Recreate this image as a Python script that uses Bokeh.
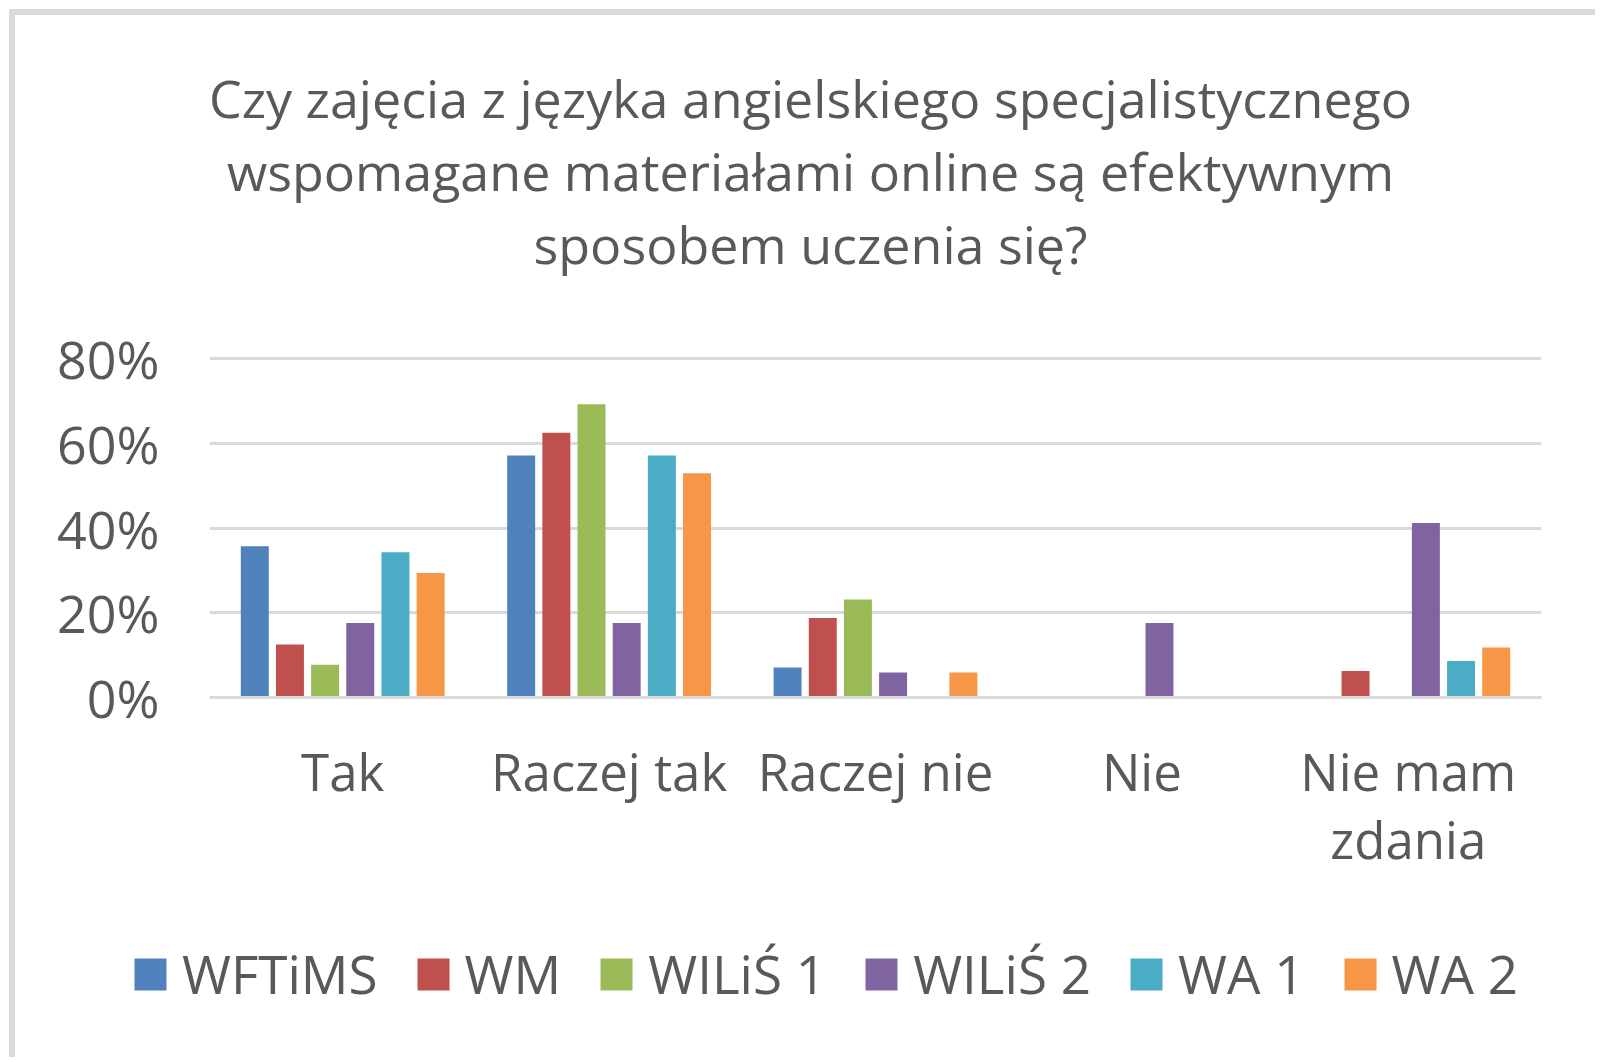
from bokeh.plotting import figure
from bokeh.models import (FactorRange, Range1d, ColumnDataSource, Legend, LegendItem,
                          FixedTicker, NumeralTickFormatter, Label)
from bokeh.layouts import column
from bokeh.transform import dodge
from bokeh.embed import file_html
from bokeh.resources import INLINE

# ---- data ----
categories = ["Tak", "Raczej tak", "Raczej nie", "Nie", "Nie mam\nzdania"]
series_names = ["WFTiMS", "WM", "WILiŚ 1", "WILiŚ 2", "WA 1", "WA 2"]
wftims = [0.357, 0.571, 0.071, 0.0, 0.0]
wm = [0.125, 0.625, 0.1875, 0.0, 0.0625]
wilis1 = [0.077, 0.692, 0.231, 0.0, 0.0]
wilis2 = [0.176, 0.176, 0.059, 0.176, 0.412]
wa1 = [0.343, 0.571, 0.0, 0.0, 0.086]
wa2 = [0.294, 0.529, 0.059, 0.0, 0.118]
y_ticks = [0, 0.2, 0.4, 0.6, 0.8]
title_lines = ["Czy zajęcia z języka angielskiego specjalistycznego",
               "wspomagane materiałami online są efektywnym",
               "sposobem uczenia się?"]

colors = ["#4F81BD", "#C0504D", "#9BBB59", "#8064A2", "#4BACC6", "#F79646"]
text_color = "#595959"
grid_color = "#D9D9D9"
FONT = "Open Sans"

series = [wftims, wm, wilis1, wilis2, wa1, wa2]
src = ColumnDataSource(dict(cat=categories, **{f"s{i}": s for i, s in enumerate(series)}))

W = 1580
H_MAIN, H_LEG = 920, 122
FRAME_H = 682          # frame from canvas top down to the 0% line
PX_80 = 339            # pixel height of the 0..80% span
p = figure(x_range=FactorRange(factors=categories, range_padding=0),
           y_range=Range1d(0, 0.8 * FRAME_H / PX_80),
           width=W, height=H_MAIN, output_backend="svg", toolbar_location=None,
           min_border_left=194, min_border_right=54, min_border_top=0,
           min_border_bottom=H_MAIN - FRAME_H,
           outline_line_color=None, background_fill_color="white", border_fill_color="white")
p.frame_align = False

pitch = 0.132
bw = 0.105
for i, name in enumerate(series_names):
    p.vbar(x=dodge("cat", (i - 2.5) * pitch, range=p.x_range), top=f"s{i}", width=bw,
           source=src, fill_color=colors[i], line_color=None)

# axes
p.yaxis.ticker = FixedTicker(ticks=y_ticks)
p.yaxis.formatter = NumeralTickFormatter(format="0%")
p.yaxis.axis_line_color = None
p.yaxis.major_tick_line_color = None
p.yaxis.minor_tick_line_color = None
p.yaxis.major_label_standoff = 44
p.yaxis.major_label_text_font = FONT
p.yaxis.major_label_text_font_size = "52px"
p.yaxis.major_label_text_color = text_color

p.xaxis.axis_line_color = grid_color
p.xaxis.axis_line_width = 3
p.xaxis.major_tick_line_color = None
p.xaxis.minor_tick_line_color = None
p.xaxis.major_label_standoff = 32
p.xaxis.major_label_text_font = FONT
p.xaxis.major_label_text_font_size = "51px"
p.xaxis.major_label_text_color = text_color
p.xaxis.major_label_text_line_height = 0.98

p.xgrid.grid_line_color = None
p.ygrid.grid_line_color = grid_color
p.ygrid.grid_line_width = 3

# title lines (screen units relative to the frame's bottom-left corner)
for txt, yy in zip(title_lines, [600, 527, 454]):
    p.add_layout(Label(x=601, y=yy, x_units="screen", y_units="screen", text=txt,
                       text_align="center", text_baseline="alphabetic",
                       text_font=FONT, text_font_size="52px", text_color=text_color))

# legend strip
pl = figure(x_range=Range1d(0, 1), y_range=Range1d(0, 1), width=W, height=H_LEG,
            output_backend="svg", toolbar_location=None,
            x_axis_location=None, y_axis_location=None,
            min_border_left=0, min_border_right=0, min_border_top=0, min_border_bottom=0,
            outline_line_color=None, background_fill_color="white", border_fill_color="white")
pl.frame_align = False
pl.xgrid.grid_line_color = None
pl.ygrid.grid_line_color = None
items = []
for i, name in enumerate(series_names):
    # legend proxy: a zero-height bar placed outside the visible range
    r = pl.vbar(x=[-5.0], top=[0.0], width=0.1, fill_color=colors[i], line_color=None)
    items.append(LegendItem(label=name, renderers=[r]))
legend = Legend(items=items, orientation="horizontal", location=(115, 47),
                glyph_width=40, glyph_height=40, label_standoff=12, spacing=35,
                padding=0, margin=0, border_line_color=None, background_fill_alpha=0,
                label_text_font=FONT, label_text_font_size="53px", label_text_color=text_color)
pl.add_layout(legend, "center")

layout = column(p, pl, spacing=0)
layout.styles = {"position": "absolute", "left": "9px", "top": "9px",
                 "border-top": "6px solid #D9D9D9", "border-left": "6px solid #D9D9D9"}

open("out.html", "w").write(file_html(layout, INLINE))
